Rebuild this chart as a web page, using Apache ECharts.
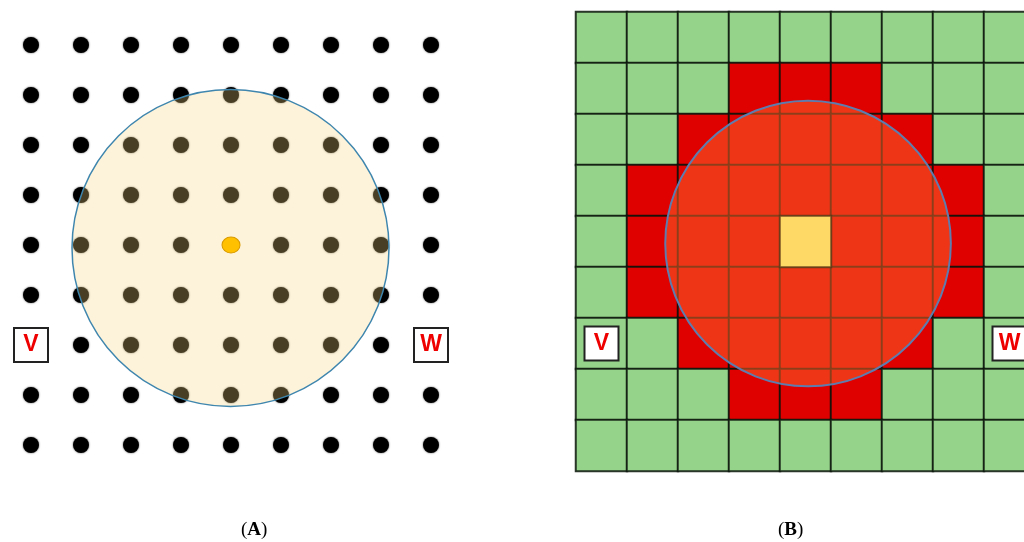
<!DOCTYPE html>
<html>
<head>
<meta charset="utf-8">
<script src="https://cdn.jsdelivr.net/npm/echarts@6/dist/echarts.min.js"></script>
<style>html,body{margin:0;padding:0;background:#fff;overflow:hidden;}#c{width:1060px;height:542px;}</style>
</head>
<body>
<div id="c"></div>
<script>
// ---- Data ----
// Panel A: 9x9 lattice of points (col, row); the V/W positions and the centre are handled separately
var latticeCols = [0,1,2,3,4,5,6,7,8];
var latticeRows = [0,1,2,3,4,5,6,7,8];
var centerPointA = [4, 4];
var circleA = [3.99, 4.06, 3.17];        // cx, cy, radius (lattice units)
var labelPointsA = [[0, 6, 'V'], [8, 6, 'W']];

// Panel B: 9x9 cells; 0 = green, 1 = red, 2 = yellow (centre)
var gridCols = ['0','1','2','3','4','5','6','7','8'];
var gridRows = ['0','1','2','3','4','5','6','7','8'];
var cellStates = [
  [0,0,0,0,0,0,0,0,0],
  [0,0,0,1,1,1,0,0,0],
  [0,0,1,1,1,1,1,0,0],
  [0,1,1,1,1,1,1,1,0],
  [0,1,1,1,2,1,1,1,0],
  [0,1,1,1,1,1,1,1,0],
  [0,0,1,1,1,1,1,0,0],
  [0,0,0,1,1,1,0,0,0],
  [0,0,0,0,0,0,0,0,0]
];
var circleB = [4.05, 4.04, 2.8];          // cx, cy (cell index), radius (cells)
var labelPointsB = [[0, 6, 'V'], [8, 6, 'W']];
var captions = ['A', 'B'];

// ---- Build ----
var dotsA = [];
latticeRows.forEach(function (r) {
  latticeCols.forEach(function (c) {
    var isLabel = labelPointsA.some(function (l) { return l[0] === c && l[1] === r; });
    var isCenter = (c === centerPointA[0] && r === centerPointA[1]);
    if (!isLabel && !isCenter) dotsA.push([c, r]);
  });
});
var cellsMain = [], cellsCenter = [];
cellStates.forEach(function (row, r) {
  row.forEach(function (s, c) {
    if (s === 2) cellsCenter.push([c, r, s]);
    else cellsMain.push([c, r, s]);
  });
});

var chart = echarts.init(document.getElementById('c'), null, {renderer: 'canvas'});

function circleRenderer(fill, stroke, lw) {
  return function (params, api) {
    var p = api.coord([api.value(0), api.value(1)]);
    var s = api.size([1, 1]);
    var r = api.value(2) * s[0];
    return {
      type: 'circle',
      shape: {cx: p[0], cy: p[1], r: r},
      style: {fill: fill, stroke: stroke, lineWidth: lw}
    };
  };
}
function circleRendererCat(fill, stroke, lw) {
  return function (params, api) {
    var p0 = api.coord([0, 0]);
    var s = api.size([1, 1]);
    var cx = p0[0] + api.value(0) * s[0];
    var cy = p0[1] + api.value(1) * s[1];
    var r = api.value(2) * s[0];
    return {
      type: 'circle',
      shape: {cx: cx, cy: cy, r: r},
      style: {fill: fill, stroke: stroke, lineWidth: lw}
    };
  };
}

var labelStyle = {
  show: true,
  formatter: function (p) { return p.value[2]; },
  position: 'inside',
  color: '#EE0000',
  fontFamily: 'Liberation Sans',
  fontWeight: 'bold',
  fontSize: 23
};

var option = {
  animation: false,
  backgroundColor: '#fff',
  grid: [
    {left: 31, top: 45, width: 400, height: 400},
    {left: 576, top: 12, width: 459, height: 459}
  ],
  xAxis: [
    {gridIndex: 0, type: 'value', min: 0, max: 8, show: false},
    {gridIndex: 1, type: 'category', data: gridCols, show: false}
  ],
  yAxis: [
    {gridIndex: 0, type: 'value', min: 0, max: 8, inverse: true, show: false},
    {gridIndex: 1, type: 'category', data: gridRows, inverse: true, show: false}
  ],
  visualMap: {
    show: false,
    type: 'piecewise',
    seriesIndex: [4, 6],
    dimension: 2,
    pieces: [
      {value: 0, color: '#95D28A'},
      {value: 1, color: '#DF0000'},
      {value: 2, color: '#FFD965'}
    ]
  },
  series: [
    {
      type: 'scatter', xAxisIndex: 0, yAxisIndex: 0,
      data: dotsA, symbol: 'circle', symbolSize: 16,
      itemStyle: {color: '#000', opacity: 1, shadowBlur: 2, shadowColor: 'rgba(0,0,0,0.7)'},
      z: 2, silent: true
    },
    {
      type: 'custom', xAxisIndex: 0, yAxisIndex: 0,
      data: [circleA], renderItem: circleRenderer('rgba(248,214,127,0.29)', '#3F86AE', 1.5),
      z: 3, silent: true
    },
    {
      type: 'scatter', xAxisIndex: 0, yAxisIndex: 0,
      data: [centerPointA], symbol: 'circle', symbolSize: [18, 16],
      itemStyle: {color: '#FFC000', opacity: 1, borderColor: '#D99A00', borderWidth: 1},
      z: 4, silent: true
    },
    {
      type: 'scatter', xAxisIndex: 0, yAxisIndex: 0,
      data: labelPointsA, symbol: 'rect', symbolSize: [34, 34],
      symbolOffset: [[-3, -2]],
      itemStyle: {color: '#fff', opacity: 1, borderColor: '#222', borderWidth: 2},
      label: labelStyle,
      z: 5, silent: true
    },
    {
      type: 'heatmap', xAxisIndex: 1, yAxisIndex: 1,
      data: cellsMain,
      itemStyle: {borderColor: 'rgba(10,20,10,0.85)', borderWidth: 2},
      z: 2, silent: true
    },
    {
      type: 'custom', xAxisIndex: 1, yAxisIndex: 1,
      data: [circleB], renderItem: circleRendererCat('rgba(254,106,44,0.5)', '#5E7CAE', 2),
      z: 3, silent: true
    },
    {
      type: 'heatmap', xAxisIndex: 1, yAxisIndex: 1,
      data: cellsCenter,
      itemStyle: {borderColor: 'rgba(90,50,20,0.8)', borderWidth: 2},
      z: 4, silent: true
    },
    {
      type: 'scatter', xAxisIndex: 1, yAxisIndex: 1,
      data: labelPointsB, symbol: 'rect', symbolSize: [34, 34],
      itemStyle: {color: '#fff', opacity: 1, borderColor: '#222', borderWidth: 2},
      label: labelStyle,
      z: 5, silent: true
    }
  ],
  graphic: captions.map(function (t, i) {
    return {
      type: 'text',
      left: i === 0 ? 256 - 15 : 793 - 15,
      top: 521,
      style: {
        text: '(' + '{b|' + t + '})',
        rich: {b: {fontWeight: 'bold', fontFamily: 'Liberation Serif', fontSize: 19, fill: '#000'}},
        font: '19px "Liberation Serif"',
        fill: '#000'
      }
    };
  })
};
chart.setOption(option);
</script>
</body>
</html>
